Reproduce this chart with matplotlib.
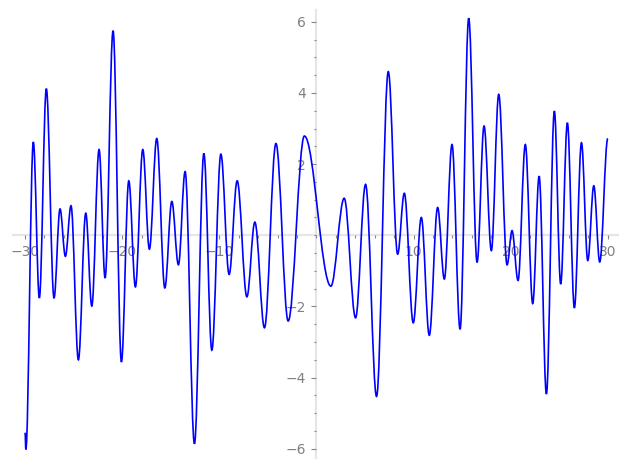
import matplotlib
matplotlib.use("Agg")
import matplotlib.pyplot as plt
from matplotlib.path import Path
from matplotlib.patches import PathPatch
from matplotlib.ticker import FixedLocator, MultipleLocator

# Turning points of the curve (x, y)
x_pts = [-30.0, -29.92, -29.15, -28.53, -27.81, -27.02, -26.40, -25.85, -25.27, -24.51,
         -23.75, -23.13, -22.38, -21.76, -20.94, -20.08, -19.32, -18.64, -17.88, -17.20,
         -16.44, -15.61, -14.89, -14.21, -13.52, -12.56, -11.59, -10.77, -9.84, -8.99,
         -8.16, -7.16, -6.34, -5.35, -4.17, -2.91, -1.24, 1.49, 2.86, 4.03,
         5.06, 6.19, 7.40, 8.36, 9.05, 9.97, 10.80, 11.62, 12.48, 13.17,
         13.96, 14.79, 15.68, 16.54, 17.26, 18.01, 18.77, 19.63, 20.14, 20.76,
         21.51, 22.27, 22.93, 23.68, 24.50, 25.15, 25.84, 26.56, 27.29, 27.94,
         28.56, 29.17, 30.0]
y_pts = [-5.55, -6.02, 2.62, -1.76, 4.12, -1.76, 0.74, -0.59, 0.83, -3.50,
         0.62, -1.99, 2.41, -1.20, 5.75, -3.56, 1.53, -1.45, 2.41, -0.39,
         2.72, -1.48, 0.95, -0.83, 1.79, -5.86, 2.30, -3.23, 2.28, -1.10,
         1.53, -1.73, 0.37, -2.60, 2.58, -2.41, 2.79, -1.43, 1.04, -2.32,
         1.43, -4.53, 4.60, -0.53, 1.18, -2.46, 0.50, -2.81, 0.78, -1.23,
         2.55, -2.64, 6.10, -0.76, 3.07, -0.43, 3.96, -0.83, 0.13, -1.27,
         2.55, -1.92, 1.66, -4.46, 3.49, -1.37, 3.16, -2.04, 2.60, -0.71,
         1.39, -0.75, 2.72]

x_major = [-30, -20, -10, 10, 20, 30]
y_major = [-6, -4, -2, 2, 4, 6]

fig = plt.figure(figsize=(6.27, 4.69), dpi=100)
ax = fig.add_axes([0.0214, 0.0235, 0.965, 0.955])

# smooth curve: cubic Bezier segments with flat tangents at turning points
a = 0.364
verts = [(x_pts[0], y_pts[0])]
codes = [Path.MOVETO]
for i in range(len(x_pts) - 1):
    x0, y0 = x_pts[i], y_pts[i]
    x1, y1 = x_pts[i + 1], y_pts[i + 1]
    dx = x1 - x0
    verts += [(x0 + a * dx, y0), (x1 - a * dx, y1), (x1, y1)]
    codes += [Path.CURVE4] * 3
patch = PathPatch(Path(verts, codes), fill=False, edgecolor="#0000ff", lw=1.2, zorder=3)
ax.add_patch(patch)

ax.set_xlim(-31.2, 31.1)
ax.set_ylim(-6.26, 6.33)

for s in ["top", "right"]:
    ax.spines[s].set_visible(False)
for s in ["left", "bottom"]:
    ax.spines[s].set_position(("data", 0))
    ax.spines[s].set_color("#e6e6e6")
    ax.spines[s].set_linewidth(1.6)
    ax.spines[s].set_zorder(1)

ax.xaxis.set_major_locator(FixedLocator(x_major))
ax.xaxis.set_minor_locator(MultipleLocator(2))
ax.yaxis.set_major_locator(FixedLocator(y_major))
ax.yaxis.set_minor_locator(MultipleLocator(0.5))

ax.tick_params(axis="x", which="major", length=3, width=0.8, color="#888888",
               labelcolor="#808080", labelsize=10, pad=3.8)
ax.tick_params(axis="x", which="minor", length=2.5, width=0.8, color="#888888")
ax.tick_params(axis="y", which="major", length=3.5, width=0.8, color="#888888",
               labelcolor="#808080", labelsize=10, pad=4)
ax.tick_params(axis="y", which="minor", length=1.8, width=0.8, color="#888888")
ax.set_facecolor("white")

fig.savefig("out.png", dpi=100)
